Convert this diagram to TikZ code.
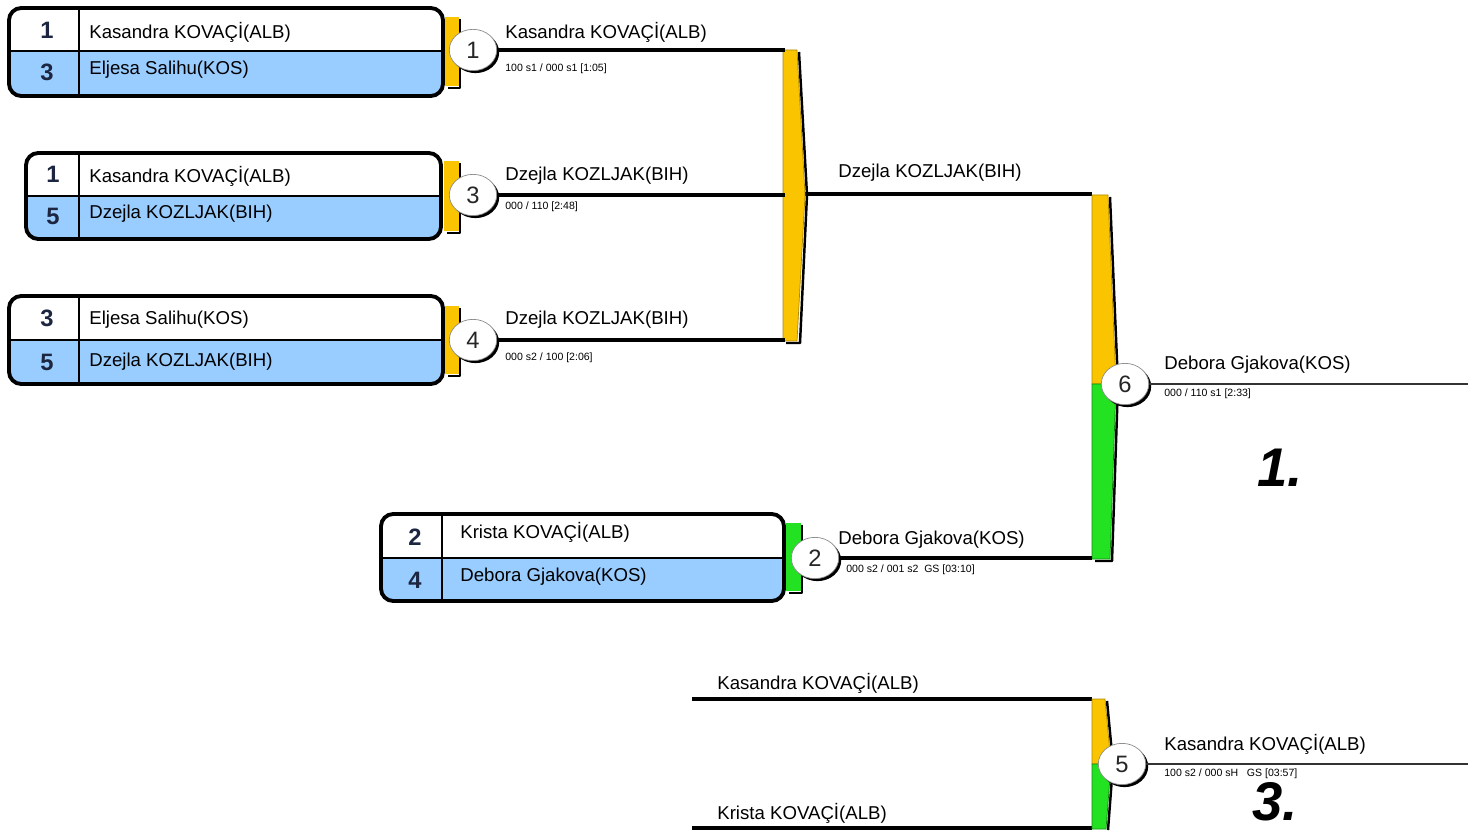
\documentclass[tikz,border=0pt]{standalone}
\usepackage{fontspec}
\setmainfont{Liberation Sans}
\usetikzlibrary{shapes.geometric,shadows}

\definecolor{tabyellow}{RGB}{250,196,0}
\definecolor{tabgreen}{RGB}{34,226,34}
\definecolor{rowblue}{RGB}{153,204,255}
\definecolor{seednavy}{RGB}{28,38,64}

\tikzstyle{frame} = 
[
	line width=2.2pt, 
	rounded corners=7pt, 
	draw=black
]
\tikzstyle{divider} = [line width=0.9pt, draw=black]
\tikzstyle{seed} = 
[
	font=\fontsize{13.5}{15}\selectfont\bfseries, 
	text=seednavy, 
	inner sep=0pt
]
\tikzstyle{player} = 
[
	font=\fontsize{10.6}{12}\selectfont, 
	anchor=west, 
	inner sep=0pt
]
\tikzstyle{score} = 
[
	font=\fontsize{6}{7}\selectfont, 
	anchor=west, 
	inner sep=0pt
]
\tikzstyle{bout} = 
[
	ellipse, 
	draw=black!45, 
	fill=white, 
	minimum width=27pt, 
	minimum height=23.5pt, 
	inner sep=0pt, 
	font=\fontsize{13.5}{15}\selectfont, 
	text=black!85,
	drop shadow={shadow xshift=1.4pt, shadow yshift=-1.4pt, fill=black, opacity=1}
]
\tikzstyle{wire} = [line width=2pt, draw=black]
\tikzstyle{finalwire} = [line width=1.2pt, draw=black!80]
\tikzstyle{barshadow} = [line width=1.4pt, draw=black, line join=round]
\tikzstyle{place} = 
[
	font=\fontsize{31}{34}\selectfont\bfseries\itshape, 
	inner sep=0pt
]

\begin{document}
\begin{tikzpicture}[x=0.02cm, y=-0.02cm]
	\useasboundingbox (0,0) rectangle (1480,834);

	% connectors
	\coordinate (BarOneTop) at (785,50);
	\coordinate (BarOneMid) at (785,195);
	\coordinate (BarOneBot) at (785,340);
	\coordinate (BarOneOut) at (805,194);
	\coordinate (BarTwoTop) at (1092,194);
	\coordinate (BarTwoBot) at (1092,558);
	\coordinate (SemiTop) at (692,699);
	\coordinate (SemiBot) at (692,828);
	\coordinate (BarThreeTop) at (1092,699);
	\coordinate (BarThreeBot) at (1092,828);
	\coordinate (FinalEnd) at (1468,384);
	\coordinate (ThirdEnd) at (1468,764);

	% boxes
	\begin{scope}
		\clip [rounded corners=7pt] (9,8) rectangle (443,96);
		\fill [rowblue] (9,51) rectangle (443,96);
	\end{scope}
	\draw [divider] (9,51) -- (443,51);
	\draw [divider] (79,8) -- (79,96);
	\draw [frame] (9,8) rectangle (443,96);

	\begin{scope}
		\clip [rounded corners=7pt] (26,153) rectangle (441,239);
		\fill [rowblue] (26,196) rectangle (441,239);
	\end{scope}
	\draw [divider] (26,196) -- (441,196);
	\draw [divider] (79,153) -- (79,239);
	\draw [frame] (26,153) rectangle (441,239);

	\begin{scope}
		\clip [rounded corners=7pt] (9,296) rectangle (443,384);
		\fill [rowblue] (9,340) rectangle (443,384);
	\end{scope}
	\draw [divider] (9,340) -- (443,340);
	\draw [divider] (79,296) -- (79,384);
	\draw [frame] (9,296) rectangle (443,384);

	\begin{scope}
		\clip [rounded corners=7pt] (381,514) rectangle (784,601);
		\fill [rowblue] (381,558) rectangle (784,601);
	\end{scope}
	\draw [divider] (381,558) -- (784,558);
	\draw [divider] (442,514) -- (442,601);
	\draw [frame] (381,514) rectangle (784,601);

	% tabs
	\fill [tabyellow] (445,17) rectangle (459,86);
	\draw [barshadow] (460,19) -- (460,88) -- (448,88);
	\fill [tabyellow] (444,161) rectangle (459,231);
	\draw [barshadow] (460,163) -- (460,233) -- (447,233);
	\fill [tabyellow] (445,306) rectangle (459,374);
	\draw [barshadow] (460,308) -- (460,376) -- (448,376);
	\fill [tabgreen] (786,523) rectangle (801,591);
	\draw [barshadow] (802,525) -- (802,593) -- (789,593);

	% lines
	\draw [wire] (BarOneOut) -- (BarTwoTop);
	\draw [wire] (SemiTop) -- (BarThreeTop);
	\draw [wire] (SemiBot) -- (BarThreeBot);

	% bars
	\draw [barshadow] (799,52) -- (807,195) -- (800,343) -- (786,343);
	\filldraw [fill=tabyellow, draw=tabyellow!70!black, line width=0.4pt]
		(783,50) -- (797,50) -- (805,195) -- (797,341) -- (783,341) -- cycle;

	\draw [barshadow] (1110,197) -- (1118,384) -- (1112,561) -- (1095,561);
	\filldraw [fill=tabyellow, draw=tabyellow!70!black, line width=0.4pt]
		(1092,195) -- (1108,195) -- (1116,384) -- (1092,384) -- cycle;
	\filldraw [fill=tabgreen, draw=tabgreen!60!black, line width=0.4pt]
		(1092,384) -- (1116,384) -- (1110,559) -- (1092,559) -- cycle;

	\draw [barshadow] (1107,701) -- (1113,764) -- (1108,830);
	\filldraw [fill=tabyellow, draw=tabyellow!70!black, line width=0.4pt]
		(1092,699) -- (1105,699) -- (1111,764) -- (1092,764) -- cycle;
	\filldraw [fill=tabgreen, draw=tabgreen!60!black, line width=0.4pt]
		(1092,764) -- (1111,764) -- (1106,829) -- (1092,829) -- cycle;

	% bouts
	\node (BoutOne) [bout] at (473,50) {1};
	\node (BoutThree) [bout] at (473,195) {3};
	\node (BoutFour) [bout] at (473,340) {4};
	\node (BoutTwo) [bout] at (815,558) {2};
	\node (BoutSix) [bout] at (1125,384) {6};
	\node (BoutFive) [bout] at (1122,764) {5};

	\draw [wire] (BoutOne) -- (BarOneTop);
	\draw [wire] (BoutThree) -- (BarOneMid);
	\draw [wire] (BoutFour) -- (BarOneBot);
	\draw [wire] (BoutTwo) -- (BarTwoBot);
	\draw [finalwire] (BoutSix) -- (FinalEnd);
	\draw [finalwire] (BoutFive) -- (ThirdEnd);

	% seeds and players
	\node (SeedA1) [seed] at (47,30) {1};
	\node (SeedA2) [seed] at (47,72) {3};
	\node (PlayerA1) [player] at (89,32) {Kasandra KOVAÇİ(ALB)};
	\node (PlayerA2) [player] at (89,70) {Eljesa Salihu(KOS)};

	\node (SeedB1) [seed] at (53,174) {1};
	\node (SeedB2) [seed] at (53,216) {5};
	\node (PlayerB1) [player] at (89,176) {Kasandra KOVAÇİ(ALB)};
	\node (PlayerB2) [player] at (89,214) {Dzejla KOZLJAK(BIH)};

	\node (SeedC1) [seed] at (47,318) {3};
	\node (SeedC2) [seed] at (47,362) {5};
	\node (PlayerC1) [player] at (89,320) {Eljesa Salihu(KOS)};
	\node (PlayerC2) [player] at (89,362) {Dzejla KOZLJAK(BIH)};

	\node (SeedD1) [seed] at (415,537) {2};
	\node (SeedD2) [seed] at (415,580) {4};
	\node (PlayerD1) [player] at (460,532) {Krista KOVAÇİ(ALB)};
	\node (PlayerD2) [player] at (460,577) {Debora Gjakova(KOS)};

	% winners and scores
	\node (WinnerOne) [player] at (505,32) {Kasandra KOVAÇİ(ALB)};
	\node (ScoreOne) [score] at (505,69) {100 s1 / 000 s1 [1:05]};
	\node (WinnerThree) [player] at (505,176) {Dzejla KOZLJAK(BIH)};
	\node (ScoreThree) [score] at (505,207) {000 / 110 [2:48]};
	\node (WinnerFour) [player] at (505,320) {Dzejla KOZLJAK(BIH)};
	\node (ScoreFour) [score] at (505,358) {000 s2 / 100 [2:06]};
	\node (WinnerPool) [player] at (838,173) {Dzejla KOZLJAK(BIH)};
	\node (WinnerTwo) [player] at (838,540) {Debora Gjakova(KOS)};
	\node (ScoreTwo) [score] at (846,570) {000 s2 / 001 s2\ \ GS [03:10]};
	\node (WinnerSix) [player] at (1164,365) {Debora Gjakova(KOS)};
	\node (ScoreSix) [score] at (1164,394) {000 / 110 s1 [2:33]};

	\node (SemiLoserTop) [player] at (717,683) {Kasandra KOVAÇİ(ALB)};
	\node (SemiLoserBot) [player] at (717,813) {Krista KOVAÇİ(ALB)};
	\node (WinnerFive) [player] at (1164,744) {Kasandra KOVAÇİ(ALB)};
	\node (ScoreFive) [score] at (1164,774) {100 s2 / 000 sH\ \ \ GS [03:57]};

	% places
	\node (PlaceFirst) [place] at (1280,468) {1.};
	\node (PlaceThird) [place] at (1275,802) {3.};
\end{tikzpicture}
\end{document}
